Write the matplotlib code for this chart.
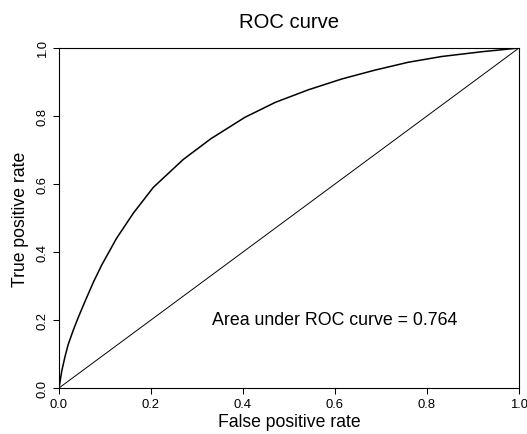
import matplotlib
matplotlib.use("Agg")
import matplotlib.pyplot as plt

plt.rcParams["font.family"] = ["Liberation Sans", "DejaVu Sans"]

# ROC-punkter lest av figuren
fpr = [0.0, 0.006, 0.013, 0.020, 0.031, 0.042, 0.056, 0.075, 0.093, 0.125,
       0.162, 0.205, 0.270, 0.330, 0.404, 0.470, 0.542, 0.615, 0.687, 0.759,
       0.832, 0.919, 1.0]
tpr = [0.0, 0.050, 0.092, 0.128, 0.170, 0.208, 0.253, 0.312, 0.362, 0.440,
       0.515, 0.590, 0.672, 0.733, 0.796, 0.840, 0.877, 0.909, 0.935, 0.958,
       0.975, 0.989, 1.0]

ticks = [0.0, 0.2, 0.4, 0.6, 0.8, 1.0]
tick_labels = ["0.0", "0.2", "0.4", "0.6", "0.8", "1.0"]
auc = 0.764

fig = plt.figure(figsize=(5.27, 4.35), dpi=100)
ax = fig.add_axes([59 / 527, 46 / 435, 460 / 527, 340 / 435])

ax.plot(fpr, tpr, color="black", linewidth=1.1)
ax.plot([0, 1], [0, 1], color="black", linewidth=0.7)

ax.set_xlim(0, 1)
ax.set_ylim(0, 1)
ax.set_xticks(ticks)
ax.set_xticklabels(tick_labels)
ax.set_yticks(ticks)
ax.set_yticklabels(tick_labels, rotation=90, va="center")
ax.tick_params(direction="out", length=4.3, width=0.75, labelsize=9.4, pad=3)
for s in ax.spines.values():
    s.set_linewidth(0.8)

ax.text(0.6, 0.2, "Area under ROC curve = %.3f" % auc, ha="center", va="center",
        fontsize=12.8)
ax.set_xlabel("False positive rate", fontsize=12.7, labelpad=2)
ax.set_ylabel("True positive rate", fontsize=12.7, labelpad=6)
ax.set_title("ROC curve", fontsize=14.6, pad=15)

fig.savefig("out.png", dpi=100)
